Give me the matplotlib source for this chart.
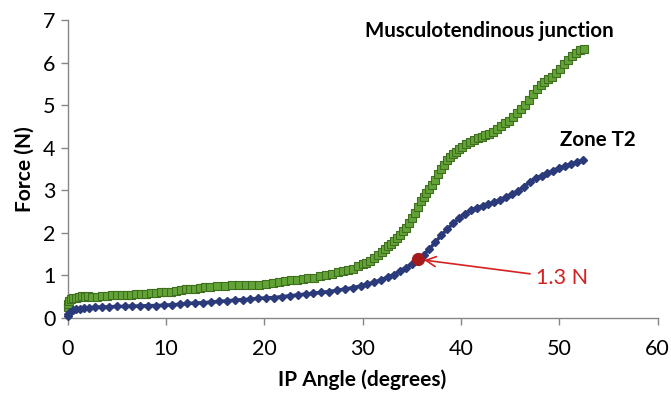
import matplotlib.pyplot as plt

plt.rcParams['font.family'] = ['Lato', 'DejaVu Sans']

# Musculotendinous junction (green squares)
mtj_angle = [0, 0.1, 0.2, 0.4, 0.6, 0.9, 1.2, 1.5, 1.8, 2.1, 2.5, 3, 3.5, 4, 4.5, 5, 5.5, 6,
             6.5, 7, 7.5, 8, 8.5, 9, 9.5, 10, 10.5, 11, 11.5, 12, 12.5, 13, 13.5, 14, 14.5,
             15.2, 16, 16.7, 17.4, 18.1, 18.8, 19.5, 20.2, 20.9, 21.5, 22.1, 22.7, 23.3, 23.9,
             24.5, 25.1, 25.7, 26.3, 26.9, 27.5, 28, 28.5, 29, 29.5, 30, 30.4, 30.8, 31.2,
             31.6, 32, 32.3, 32.6, 32.9, 33.2, 33.5, 33.8, 34.1, 34.4, 34.7, 35, 35.3, 35.6,
             35.9, 36.2, 36.5, 36.8, 37.1, 37.4, 37.7, 38, 38.3, 38.6, 38.9, 39.2, 39.5, 39.8,
             40.1, 40.5, 40.9, 41.3, 41.7, 42.1, 42.5, 42.9, 43.3, 43.7, 44.1, 44.5, 44.9,
             45.3, 45.7, 46.1, 46.5, 46.9, 47.3, 47.7, 48.1, 48.5, 48.9, 49.3, 49.7, 50.1,
             50.5, 50.9, 51.3, 51.7, 52.1, 52.5]
mtj_force = [0.25, 0.33, 0.40, 0.44, 0.47, 0.48, 0.50, 0.51, 0.50, 0.51, 0.50, 0.50, 0.51, 0.52,
             0.53, 0.54, 0.53, 0.54, 0.55, 0.56, 0.56, 0.57, 0.58, 0.59, 0.60, 0.60, 0.62, 0.63,
             0.65, 0.67, 0.68, 0.69, 0.71, 0.72, 0.73, 0.76, 0.76, 0.77, 0.77, 0.77, 0.78, 0.78,
             0.79, 0.81, 0.84, 0.86, 0.88, 0.90, 0.92, 0.94, 0.95, 0.98, 1.01, 1.04, 1.07, 1.10,
             1.13, 1.16, 1.21, 1.26, 1.30, 1.34, 1.40, 1.47, 1.55, 1.62, 1.68, 1.74, 1.80, 1.88,
             1.96, 2.04, 2.12, 2.22, 2.34, 2.46, 2.60, 2.74, 2.85, 2.93, 3.02, 3.12, 3.25, 3.38,
             3.50, 3.60, 3.70, 3.78, 3.85, 3.90, 3.96, 4.02, 4.08, 4.14, 4.18, 4.22, 4.26, 4.30,
             4.32, 4.36, 4.44, 4.50, 4.57, 4.63, 4.71, 4.81, 4.91, 5.01, 5.13, 5.26, 5.37, 5.47,
             5.55, 5.61, 5.67, 5.75, 5.85, 5.97, 6.07, 6.16, 6.23, 6.30, 6.33]

# Zone T2 (blue diamonds)
t2_angle = [0, 0.1, 0.3, 0.6, 0.9, 1.3, 1.7, 2.2, 2.8, 3.5, 4.2, 5, 5.8, 6.6, 7.4, 8.2, 9, 9.8,
            10.6, 11.4, 12.2, 13, 13.8, 14.6, 15.4, 16.2, 17, 17.8, 18.6, 19.4, 20.2, 21, 21.8,
            22.6, 23.4, 24.2, 25, 25.8, 26.6, 27.4, 28.2, 29, 29.8, 30.5, 31.2, 31.9, 32.6, 33.2,
            33.8, 34.4, 35, 35.6, 36.2, 36.8, 37.4, 38, 38.6, 39.2, 39.8, 40.4, 41, 41.6, 42.2,
            42.8, 43.4, 44, 44.6, 45.2, 45.8, 46.4, 47, 47.6, 48.2, 48.8, 49.4, 50, 50.6, 51.2,
            51.8, 52.4]
t2_force = [0.05, 0.10, 0.15, 0.18, 0.20, 0.22, 0.23, 0.24, 0.25, 0.26, 0.26, 0.27, 0.27, 0.28,
            0.28, 0.29, 0.29, 0.30, 0.31, 0.32, 0.34, 0.35, 0.36, 0.37, 0.39, 0.40, 0.42, 0.43,
            0.44, 0.46, 0.47, 0.48, 0.50, 0.52, 0.54, 0.56, 0.58, 0.60, 0.62, 0.65, 0.68, 0.71,
            0.75, 0.79, 0.84, 0.90, 0.96, 1.02, 1.10, 1.18, 1.27, 1.36, 1.48, 1.62, 1.78, 1.94,
            2.08, 2.22, 2.34, 2.45, 2.53, 2.59, 2.63, 2.67, 2.72, 2.78, 2.84, 2.91, 2.98, 3.08,
            3.20, 3.28, 3.34, 3.40, 3.46, 3.52, 3.57, 3.62, 3.66, 3.70]

marked_angle = 35.65
marked_force = 1.38

fig = plt.figure(figsize=(6.71, 3.93), dpi=100)
ax = fig.add_axes([0.1006, 0.191, 0.8794, 0.758])

ax.plot(mtj_angle, mtj_force, color='#3f6e1e', lw=1, marker='s', markersize=5.8,
        markerfacecolor='#62a337', markeredgecolor='#3f6e1e', markeredgewidth=0.8)
ax.plot(t2_angle, t2_force, color='#2b3a7a', lw=2.5, marker='D', markersize=4.5,
        markerfacecolor='#2b3a7a', markeredgecolor='#2b3a7a')
ax.plot(marked_angle, marked_force, 'o', color='#a3191c', markersize=8.5, zorder=5)

ax.annotate('1.3 N', xy=(marked_angle + 0.6, marked_force - 0.02), xytext=(47.6, 0.94),
            color='#d42222', fontsize=15.5, va='center', ha='left',
            arrowprops=dict(arrowstyle='->', color='#d42222', lw=1.2, mutation_scale=18,
                            shrinkA=2, shrinkB=0))

ax.text(42.9, 6.74, 'Musculotendinous junction', fontsize=14.8, fontweight='bold',
        ha='center', va='center')
ax.text(53.9, 4.18, 'Zone T2', fontsize=14.8, fontweight='bold', ha='center', va='center')

ax.set_xlim(0, 60)
ax.set_ylim(0, 7)
ax.set_xticks(range(0, 61, 10))
ax.set_yticks(range(0, 8))
ax.set_xlabel('IP Angle (degrees)', fontsize=15, fontweight='bold', labelpad=8)
ax.set_ylabel('Force (N)', fontsize=15, fontweight='bold', labelpad=6)

for s in ['top', 'right']:
    ax.spines[s].set_visible(False)
for s in ['left', 'bottom']:
    ax.spines[s].set_color('#868686')
    ax.spines[s].set_linewidth(1)
ax.tick_params(axis='both', colors='#868686', labelcolor='black', labelsize=15.5,
               length=5, width=1)
ax.tick_params(axis='x', pad=10)
for sp in ax.spines.values():
    sp.set_zorder(0)
for line in ax.lines:
    line.set_clip_on(False)

fig.savefig('out.png', dpi=100)
